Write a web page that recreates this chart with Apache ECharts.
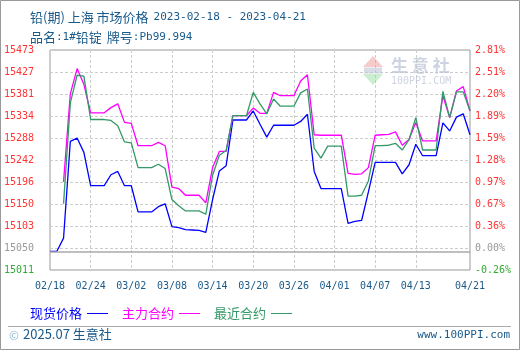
<!DOCTYPE html>
<html>
<head>
<meta charset="utf-8">
<script src="https://cdn.jsdelivr.net/npm/echarts@6/dist/echarts.min.js"></script>
<style>
  html, body { margin: 0; padding: 0; background: #fff; }
  #chart { width: 520px; height: 350px; }
</style>
</head>
<body>
<div id="chart"></div>
<script>
// Trading days shown on the category axis
const dates = [
  '02/18','02/19','02/20','02/21','02/22','02/23','02/24','02/25','02/26','02/27','02/28',
  '03/01','03/02','03/03','03/04','03/05','03/06','03/07','03/08','03/09','03/10',
  '03/11','03/12','03/13','03/14','03/15','03/16','03/17','03/18','03/19','03/20',
  '03/21','03/22','03/23','03/24','03/25','03/26','03/27','03/28','03/29','03/30','03/31',
  '04/01','04/02','04/03','04/04','04/05','04/06','04/07','04/08','04/09','04/10',
  '04/11','04/12','04/13','04/14','04/15','04/16','04/17','04/18','04/19','04/20','04/21'
];

// 现货价格 (spot)
const spotPrice = [
  15050,15050,15078,15281,15288,15258,15188,15188,15188,15211,
  15218,15188,15188,15133,15133,15133,15144,15150,15102,15100,
  15096,15095,15094,15090,15159,15219,15230,15326,15326,15326,
  15345,15317,15290,15315,15315,15315,15315,15323,15338,15218,
  15182,15182,15182,15182,15109,15113,15115,15175,15237,15237,
  15237,15237,15213,15232,15275,15251,15251,15251,15320,15303,
  15332,15339,15295
];

// 主力合约 (main contract)
const mainContract = [
  null,null,15196,15381,15434,15401,15341,15341,15341,15352,
  15360,15321,15319,15272,15272,15272,15279,15272,15185,15182,
  15168,15168,15168,15152,15226,15260,15260,15335,15335,15335,
  15351,15340,15340,15384,15377,15377,15377,15408,15421,15295,
  15294,15294,15294,15294,15214,15212,15213,15226,15294,15295,
  15296,15301,15273,15285,15321,15282,15282,15282,15377,15331,
  15387,15396,15345
];

// 最近合约 (nearest contract)
const nearestContract = [
  null,null,15150,15362,15420,15418,15327,15327,15327,15325,
  15314,15280,15278,15226,15226,15226,15233,15224,15159,15146,
  15135,15135,15135,15128,15210,15252,15262,15335,15335,15335,
  15384,15360,15339,15370,15355,15355,15355,15383,15391,15267,
  15246,15271,15271,15271,15166,15166,15168,15198,15272,15272,
  15273,15277,15263,15285,15331,15263,15263,15263,15386,15331,
  15385,15385,15345
];

// Reference price for the percentage scale
const basePrice = 15050;

// Tick labels, bottom to top
const priceTicks = ['15011','15050','15103','15150','15196','15242','15288','15334','15381','15427','15473'];
const pctTicks = ['-0.26%','0.00%','0.36%','0.67%','0.97%','1.28%','1.59%','1.89%','2.20%','2.51%','2.81%'];

const yMin = 15011, yStep = 46.2, yMax = 15473;

const chart = echarts.init(document.getElementById('chart'), null, { renderer: 'canvas' });

const mono = '"DejaVu Sans Mono", monospace';
const cjk = '"Noto Sans CJK SC", sans-serif';
const navy = '#1a5a8a';

function tickIndex(v) { return Math.round((v - yMin) / yStep); }
function tickLabel(list) {
  return function (v) {
    const i = tickIndex(v);
    const t = list[i] || '';
    if (i === 0) return '{g|' + t + '}';
    if (i === 1) return '{n|' + t + '}';
    return '{r|' + t + '}';
  };
}
const tickRich = {
  g: { color: '#33aa33', fontFamily: mono, fontSize: 10 },
  n: { color: '#999999', fontFamily: mono, fontSize: 10 },
  r: { color: '#ff3333', fontFamily: mono, fontSize: 10 }
};

function shownLabel(i) { return (i % 6 === 0 && i <= 54) || i === dates.length - 1; }
function shownGrid(i) { return i % 6 === 0 && i > 0 && i <= 54; }

const titleRich = {
  c: { fontFamily: cjk, fontSize: 13, color: navy, fontWeight: 'normal' },
  a: { fontFamily: mono, fontSize: 11, color: navy, fontWeight: 'normal' }
};

chart.setOption({
  animation: false,
  backgroundColor: '#ffffff',
  title: [{
    left: 25, top: 3,
    text: '{c|铅(期) 上海 市场价格} {a|2023-02-18 - 2023-04-21}',
    textStyle: { fontWeight: 'normal', rich: titleRich }
  }, {
    left: 25, top: 23,
    text: '{c|品名}{a|:1#}{c|铅锭} {c|牌号}{a|:Pb99.994}',
    textStyle: { fontWeight: 'normal', rich: titleRich }
  }],
  legend: {
    left: 25, top: 302,
    align: 'right',
    icon: 'rect',
    itemWidth: 21, itemHeight: 1,
    itemGap: 14,
    textStyle: { fontFamily: cjk, fontSize: 13 },
    data: [
      { name: '现货价格', textStyle: { color: '#0000ff' } },
      { name: '主力合约', textStyle: { color: '#ff00ff' } },
      { name: '最近合约', textStyle: { color: '#339966' } }
    ]
  },
  grid: {
    left: 50, right: 50, top: 50, bottom: 80,
    show: true, borderColor: '#999999', borderWidth: 1, backgroundColor: 'transparent'
  },
  xAxis: {
    type: 'category',
    data: dates,
    boundaryGap: false,
    axisLine: { show: false },
    axisTick: { show: false },
    axisLabel: {
      interval: shownLabel,
      margin: 11,
      color: navy, fontFamily: mono, fontSize: 10
    },
    splitLine: {
      show: true, interval: shownGrid,
      lineStyle: { color: '#cccccc', type: [3, 2], width: 1 }
    }
  },
  yAxis: [{
    type: 'value', position: 'left',
    min: yMin, max: yMax, interval: yStep,
    axisLine: { show: false }, axisTick: { show: false },
    axisLabel: { margin: 16, formatter: tickLabel(priceTicks), rich: tickRich },
    splitLine: { show: true, lineStyle: { color: '#cccccc', type: [3, 2], width: 1 } }
  }, {
    type: 'value', position: 'right',
    min: yMin, max: yMax, interval: yStep,
    axisLine: { show: false }, axisTick: { show: false },
    axisLabel: { margin: 5, formatter: tickLabel(pctTicks), rich: tickRich },
    splitLine: { show: false }
  }],
  series: [{
    name: '现货价格', type: 'line', data: spotPrice,
    symbol: 'none', color: '#0000ff',
    lineStyle: { width: 1.3, color: '#0000ff' },
    markLine: {
      silent: true, symbol: 'none', label: { show: false },
      lineStyle: { color: '#aaaaaa', type: 'solid', width: 1.5 },
      data: [{ yAxis: basePrice }]
    }
  }, {
    name: '主力合约', type: 'line', data: mainContract,
    symbol: 'none', color: '#ff00ff',
    lineStyle: { width: 1.3, color: '#ff00ff' }
  }, {
    name: '最近合约', type: 'line', data: nearestContract,
    symbol: 'none', color: '#339966',
    lineStyle: { width: 1.3, color: '#339966' }
  }],
  graphic: [
    // outer frame
    { type: 'rect', z: 100, shape: { x: 0.5, y: 0.5, width: 519, height: 349 },
      style: { fill: 'none', stroke: '#999999', lineWidth: 1 } },
    // footer separator
    { type: 'line', shape: { x1: 8, y1: 326.5, x2: 511, y2: 326.5 },
      style: { stroke: '#aaaaaa', lineWidth: 1 } },
    { type: 'text', left: 9, top: 329,
      style: { text: '©', fill: '#8ab4d0', font: '12px ' + cjk } },
    { type: 'text', left: 23, top: 328,
      style: { text: '2025.07 生意社', fill: navy, font: '13px ' + cjk } },
    { type: 'text', right: 10, top: 330,
      style: { text: 'www.100PPI.com', fill: navy, font: '11px ' + mono } },
    // watermark logo
    { type: 'polygon', z: 1, shape: { points: [[363, 67], [373, 56], [383, 67]] },
      style: { fill: 'rgba(238,140,140,0.45)' } },
    { type: 'rect', z: 1, shape: { x: 364, y: 67.5, width: 18, height: 6 },
      style: { fill: 'rgba(190,196,215,0.6)' } },
    { type: 'polygon', z: 1, shape: { points: [[363, 74], [383, 74], [373, 85]] },
      style: { fill: 'rgba(140,215,150,0.45)' } },
    { type: 'text', z: 1, left: 391, top: 57,
      style: { text: '生 意 社', fill: 'rgba(190,196,215,0.75)', font: 'bold 17px ' + cjk } },
    { type: 'text', z: 1, left: 391, top: 76,
      style: { text: '100PPI.COM', fill: 'rgba(190,196,215,0.75)', font: '10px ' + mono } }
  ]
});
</script>
</body>
</html>
